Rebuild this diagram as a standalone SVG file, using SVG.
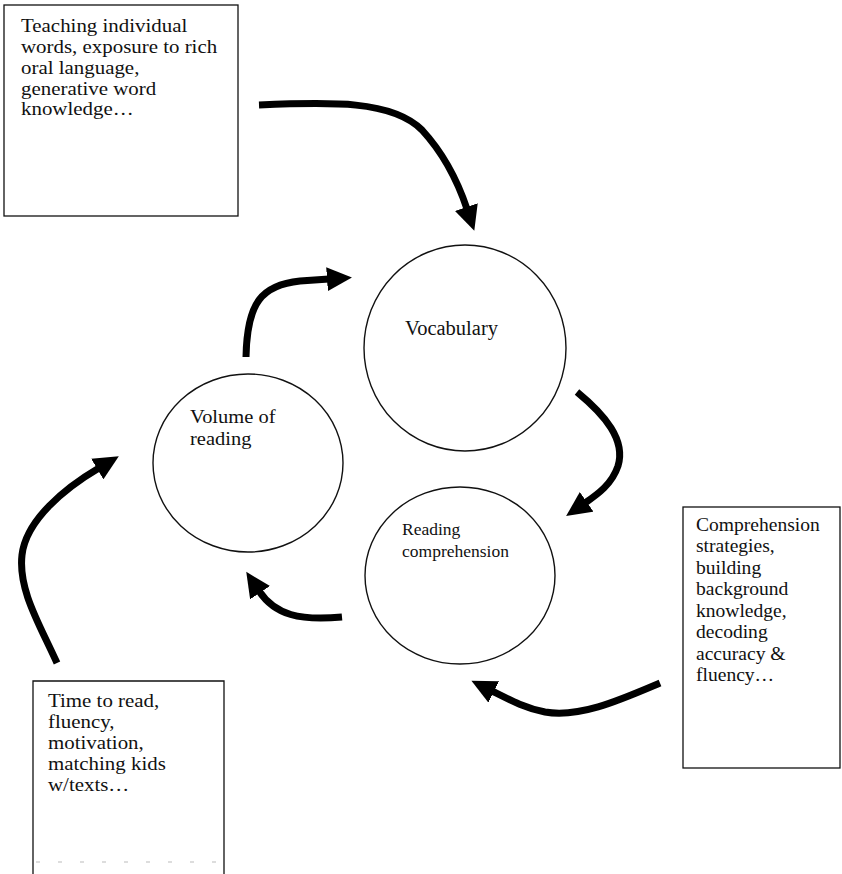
<svg xmlns="http://www.w3.org/2000/svg" width="842" height="874" viewBox="0 0 842 874">
<style>
  .box { fill: #fff; stroke: #111; stroke-width: 1.3; }
  .node { fill: #fff; stroke: #111; stroke-width: 1.4; }
  .t { font-family: "Liberation Serif", "Times New Roman", serif; fill: #111; }
  .conn { fill: none; stroke: #000; stroke-width: 7; stroke-linecap: butt; marker-end: url(#head); }
</style>
<defs>
  <marker id="head" viewBox="0 -12 26 24" markerWidth="26" markerHeight="24" refX="2" refY="0" orient="auto" markerUnits="userSpaceOnUse">
    <path d="M0,-12 L25,0 L0,12 z" fill="#000"/>
  </marker>
</defs>
<rect width="842" height="874" fill="#fff"/>

<g id="box-vocab-input">
  <rect class="box" x="4" y="5" width="234" height="211"/>
  <g transform="translate(21,0) scale(1.1,1)">
    <text class="t" font-size="19" x="0" y="32">Teaching individual</text>
    <text class="t" font-size="19" x="0" y="53">words, exposure to rich</text>
    <text class="t" font-size="19" x="0" y="74">oral language,</text>
    <text class="t" font-size="19" x="0" y="95">generative word</text>
    <text class="t" font-size="19" x="0" y="115.5">knowledge…</text>
  </g>
</g>

<g id="box-comp-input">
  <rect class="box" x="683" y="507" width="157" height="261"/>
  <g transform="translate(696,0) scale(1.03,1)">
    <text class="t" font-size="19" x="0" y="531">Comprehension</text>
    <text class="t" font-size="19" x="0" y="552.5">strategies,</text>
    <text class="t" font-size="19" x="0" y="574">building</text>
    <text class="t" font-size="19" x="0" y="595.5">background</text>
    <text class="t" font-size="19" x="0" y="617">knowledge,</text>
    <text class="t" font-size="19" x="0" y="638.5">decoding</text>
    <text class="t" font-size="19" x="0" y="660">accuracy &amp;</text>
    <text class="t" font-size="19" x="0" y="681.5">fluency…</text>
  </g>
</g>

<g id="box-volume-input">
  <path class="box" d="M33,880 L33,681 L224,681 L224,880"/>
  <line x1="36" y1="862" x2="222" y2="862" stroke="#bbb" stroke-width="1" stroke-dasharray="4,18"/>
  <g transform="translate(48,0) scale(1.1,1)">
    <text class="t" font-size="19" x="0" y="707">Time to read,</text>
    <text class="t" font-size="19" x="0" y="728">fluency,</text>
    <text class="t" font-size="19" x="0" y="749">motivation,</text>
    <text class="t" font-size="19" x="0" y="770">matching kids</text>
    <text class="t" font-size="19" x="0" y="791">w/texts…</text>
  </g>
</g>

<g id="node-vocabulary">
  <ellipse class="node" cx="465" cy="348" rx="101" ry="103"/>
  <text class="t" font-size="20.5" x="405" y="335">Vocabulary</text>
</g>

<g id="node-volume">
  <ellipse class="node" cx="248" cy="463" rx="95" ry="89"/>
  <g transform="translate(190,0) scale(1.05,1)">
    <text class="t" font-size="19.5" x="0" y="423">Volume of</text>
    <text class="t" font-size="19.5" x="0" y="445">reading</text>
  </g>
</g>

<g id="node-comprehension">
  <ellipse class="node" cx="460" cy="575.5" rx="95" ry="88.5"/>
  <text class="t" font-size="17.5" x="402" y="535">Reading</text>
  <text class="t" font-size="17.5" x="402" y="557">comprehension</text>
</g>

<g id="connectors">
  <path class="conn" d="M259,105 C 330,102 392,100 422,130 C 445,155 459,185 467,209"/>
  <path class="conn" stroke-width="8" d="M246,357 C 247,302 262,285 300,281 L329,279"/>
  <path class="conn" d="M577,392 C 605,415 626,440 618,466 C 612,484 598,494 585,503"/>
  <path class="conn" d="M342,617 C 300,621 275,615 259,591"/>
  <path class="conn" d="M660,683 C 620,700 580,718 545,712 C 525,708 510,700 492,691"/>
  <path class="conn" stroke-width="6" d="M57,663 C 40,625 18,590 22,555 C 26,520 65,488 99,468"/>
</g>
</svg>
